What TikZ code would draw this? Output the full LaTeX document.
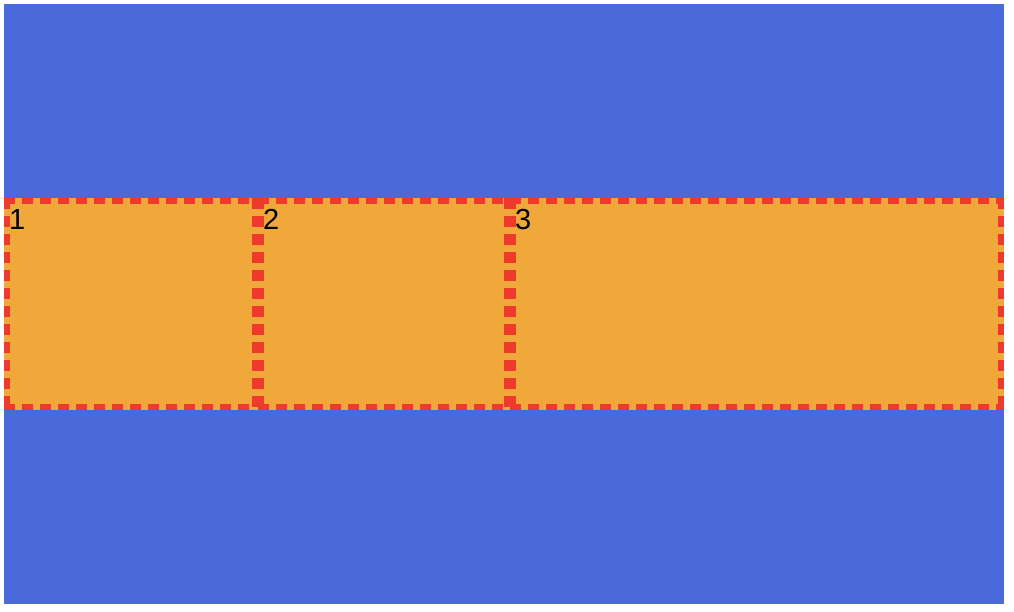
\documentclass[tikz,border=0pt]{standalone}
\usepackage{fontspec}
\setmainfont{Liberation Sans}
\usetikzlibrary{calc}
\definecolor{bandblue}{RGB}{74,106,219}
\definecolor{cellorange}{RGB}{240,168,58}
\definecolor{cellred}{RGB}{238,58,44}
\tikzset{
	cellnode/.style={
			rectangle,
			draw=cellorange,
			fill=cellorange,
			line width=6pt,
			minimum height=206pt,
			inner sep=0pt,
			outer sep=0pt
		},
	cellborder/.style={
			draw=cellred,
			line width=6pt,
			line cap=rect,
			dash pattern=on 5pt off 13pt
		},
	numnode/.style={
			anchor=base west,
			inner sep=0pt,
			font=\fontsize{29}{29}\selectfont,
			text=black
		}
}
\begin{document}
\begin{tikzpicture}[x=1pt, y=-1pt]
\useasboundingbox (0,0) rectangle (1014,612);
\fill[bandblue] (4,4) rectangle (1004,604);

\node[cellnode, minimum width=248pt] (c1) at (131,304) {};
\node[cellnode, minimum width=246pt] (c2) at (384,304) {};
\node[cellnode, minimum width=488pt] (c3) at (757,304) {};

\draw[cellborder] (c1.north west) -- (c1.north east) (c1.north west) -- (c1.south west)
  (c1.north east) -- (c1.south east) (c1.south west) -- (c1.south east);
\draw[cellborder] (c2.north west) -- (c2.north east) (c2.north west) -- (c2.south west)
  (c2.north east) -- (c2.south east) (c2.south west) -- (c2.south east);
\draw[cellborder] (c3.north west) -- (c3.north east) (c3.north west) -- (c3.south west)
  (c3.north east) -- (c3.south east) (c3.south west) -- (c3.south east);

\node[numnode] (n1) at ($(c1.north west)+(2,29)$) {1};
\node[numnode] (n2) at ($(c2.north west)+(2,29)$) {2};
\node[numnode] (n3) at ($(c3.north west)+(2,29)$) {3};
\end{tikzpicture}
\end{document}
